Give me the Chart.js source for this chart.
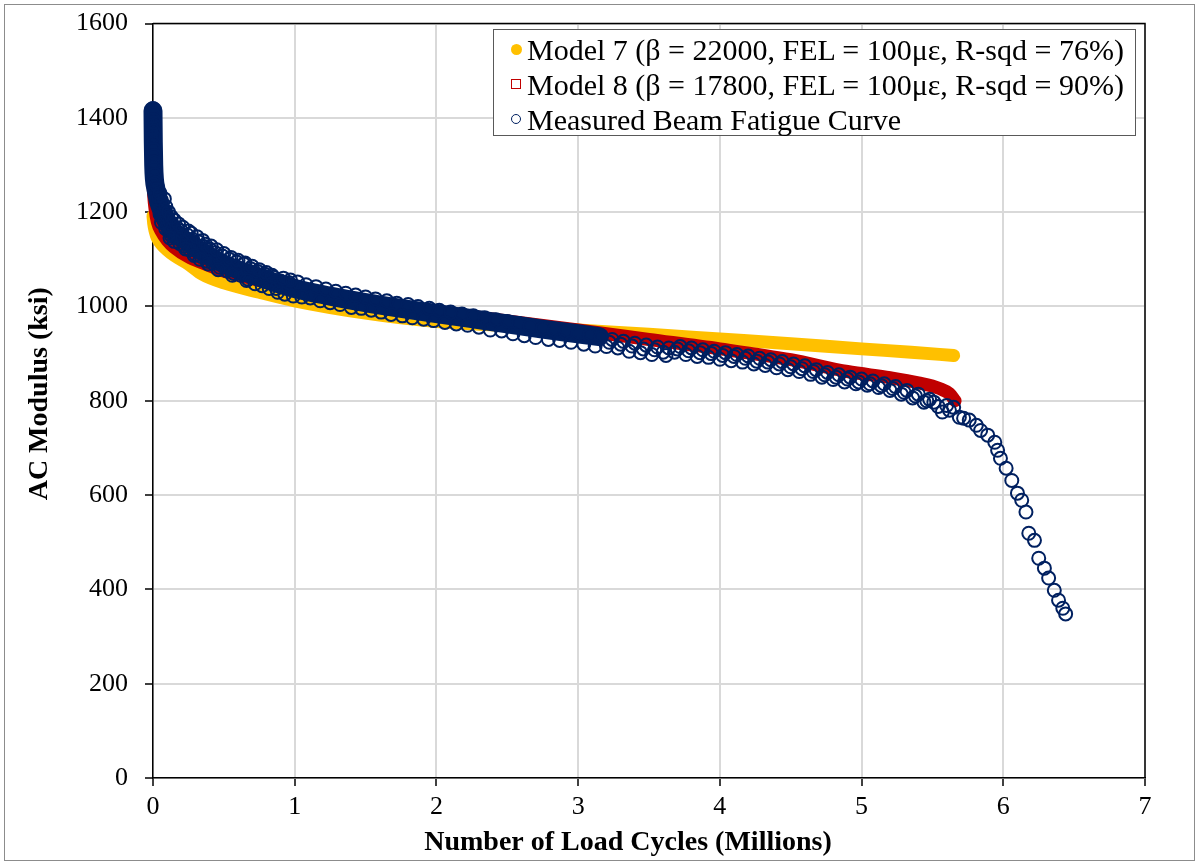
<!DOCTYPE html>
<html>
<head>
<meta charset="utf-8">
<script src="https://cdn.jsdelivr.net/npm/chart.js@4.4.1/dist/chart.umd.min.js"></script>
<style>
  html, body { margin: 0; padding: 0; background: #fff; }
  #wrap { position: relative; width: 1198px; height: 863px; }
  #frame { position: absolute; left: 4px; top: 4px; width: 1189px; height: 855px; border: 1.5px solid #8c8c8c; pointer-events: none; }
  #legend {
    position: absolute; left: 493px; top: 29px; width: 643px; height: 107px;
    border: 1.5px solid #595959; background: #fff; box-sizing: border-box;
    font-family: "Liberation Serif", "Times New Roman", serif; font-size: 30px; color: #000;
    padding-top: 2px;
  }
  #legend .item { height: 35px; line-height: 35px; white-space: nowrap; position: relative; padding-left: 33px; }
  #legend .mark { position: absolute; left: 17px; top: 12px; width: 10px; height: 10px; box-sizing: border-box; }
</style>
</head>
<body>
<div id="wrap">
  <canvas id="fatigueChart" width="1198" height="863"></canvas>
  <div id="frame"></div>
  <div id="legend"></div>
</div>
<script>
// series names (legend text)
const seriesNames = [
    "Model 7 (β = 22000, FEL = 100με, R-sqd = 76%)",
    "Model 8 (β = 17800, FEL = 100με, R-sqd = 90%)",
    "Measured Beam Fatigue Curve",
];

// Model 7 (centre of the yellow band)
const model7X = [0, 0.005, 0.015, 0.03, 0.06, 0.1, 0.15, 0.25, 0.35, 0.5, 0.75, 1.0, 1.5, 2.0, 2.5, 3.0, 3.5, 4.0, 4.5, 5.0, 5.35, 5.65];
const model7Y = [1192, 1176, 1160, 1146, 1132, 1120, 1108, 1090, 1068, 1050, 1030, 1012, 986, 968, 959, 950, 941, 931, 921, 910, 903, 896];

// Model 8 - centre of the red band
const model8X = [0, 0.005, 0.015, 0.03, 0.06, 0.1, 0.15, 0.25, 0.35, 0.5, 0.75, 1.0, 1.5, 2.0, 2.5, 3.0, 3.5, 4.0, 4.5, 4.9, 5.2, 5.4, 5.55, 5.62, 5.66];
const model8Y = [1265, 1235, 1205, 1180, 1158, 1140, 1125, 1105, 1092, 1075, 1055, 1035, 1010, 989, 969, 950, 930, 910, 887, 862, 849, 838, 826, 815, 800];

// measured curve: dense part of the cloud (solid navy band)
const bandX = [0, 0.002, 0.005, 0.01, 0.02, 0.04, 0.07, 0.1, 0.15, 0.25, 0.35, 0.5, 0.75, 1.0, 1.25, 1.5, 1.75, 2.0, 2.25, 2.5, 2.75, 3.0, 3.15];
const bandY = [1415, 1350, 1300, 1270, 1250, 1222, 1198, 1178, 1158, 1136, 1116, 1090, 1062, 1038, 1022, 1008, 996, 985, 974, 963, 952, 942, 936];

// measured curve: individual test points
const measuredX = [
    0, 0.001, 0.002, 0.002, 0.003, 0.003, 0.004, 0.004, 0.005, 0.006, 0.008, 0.01, 0.015, 0.02,
    0.04, 0.05, 0.06, 0.07, 0.08, 0.09, 0.10, 0.11, 0.12, 0.13, 0.14, 0.16, 0.17, 0.19, 0.20, 0.22, 0.24, 0.26, 0.28, 0.30,
    0.32, 0.34, 0.36, 0.38, 0.40, 0.42, 0.44, 0.47, 0.49, 0.52, 0.54, 0.57, 0.59, 0.62, 0.64, 0.67, 0.69, 0.72, 0.74, 0.77,
    0.79, 0.82, 0.85, 0.88, 0.90, 0.93, 0.96, 0.99,
    1.02, 1.05, 1.08, 1.11, 1.15, 1.18, 1.22, 1.25, 1.29, 1.32, 1.36, 1.40, 1.43, 1.47, 1.50, 1.54, 1.57, 1.61, 1.65, 1.68,
    1.72, 1.76, 1.80, 1.83, 1.87, 1.91, 1.95, 1.98, 2.02, 2.06, 2.10, 2.14, 2.18, 2.22, 2.26, 2.30, 2.34, 2.38, 2.42, 2.46,
    2.50, 2.54, 2.58, 2.62, 2.66, 2.70, 2.75, 2.79, 2.83, 2.87, 2.91, 2.95, 3.00, 3.04, 3.08, 3.12, 3.16,
    3.20, 3.22, 3.24, 3.28, 3.30, 3.32, 3.36, 3.38, 3.40, 3.44, 3.46, 3.48, 3.52, 3.54, 3.56, 3.60, 3.62, 3.64, 3.68, 3.70,
    3.72, 3.76, 3.78, 3.80, 3.84, 3.86, 3.88, 3.92, 3.94, 3.96,
    4.00, 4.02, 4.04, 4.08, 4.10, 4.12, 4.16, 4.18, 4.20, 4.24, 4.26, 4.28, 4.32, 4.34, 4.36, 4.40, 4.42, 4.44, 4.48, 4.50,
    4.52, 4.56, 4.58, 4.60, 4.64, 4.66, 4.68, 4.72, 4.74, 4.76,
    4.80, 4.82, 4.84, 4.88, 4.90, 4.92, 4.96, 4.98, 5.00, 5.04, 5.06, 5.08, 5.12, 5.14, 5.16, 5.20, 5.22, 5.24, 5.28, 5.30,
    5.32, 5.36, 5.38, 5.40, 5.44, 5.46, 5.48,
    5.51, 5.54, 5.57, 5.60, 5.62, 5.65, 5.69, 5.72, 5.76, 5.81, 5.84, 5.89, 5.94, 5.96, 5.98, 6.02, 6.06, 6.10, 6.13, 6.16,
    6.18, 6.22, 6.25, 6.29, 6.32, 6.36, 6.39, 6.42, 6.44,
    // outer edge of the early cloud
    0.03, 0.05, 0.06, 0.08, 0.09, 0.11, 0.12, 0.13, 0.15, 0.15, 0.18, 0.21, 0.23, 0.25, 0.27, 0.29, 0.31, 0.33, 0.35, 0.37,
    0.39, 0.41, 0.45, 0.46, 0.50, 0.55, 0.56, 0.60, 0.65, 0.66, 0.70, 0.75, 0.80, 0.84, 0.87, 0.92, 0.97,
];
const measuredY = [
    1420, 1408, 1396, 1384, 1372, 1360, 1346, 1333, 1320, 1306, 1292, 1280, 1262, 1248,
    1230, 1195, 1225, 1188, 1204, 1165, 1192, 1160, 1180, 1150, 1172, 1145, 1167, 1133, 1160, 1128, 1152, 1120, 1142, 1110,
    1137, 1106, 1127, 1096, 1122, 1092, 1114, 1083, 1107, 1076, 1100, 1070, 1094, 1066, 1090, 1058, 1080, 1048, 1074, 1044,
    1068, 1038, 1062, 1030, 1054, 1026, 1050, 1022,
    1052, 1020, 1046, 1018, 1042, 1012, 1037, 1008, 1032, 1004, 1028, 998, 1024, 996, 1020, 992, 1016, 988, 1012, 983,
    1007, 980, 1004, 976, 1000, 973, 996, 970, 992, 966, 988, 963, 984, 960, 980, 956, 976, 950, 972, 948,
    968, 942, 964, 938, 958, 934, 954, 930, 950, 928, 946, 924, 942, 920, 938, 916, 934,
    915, 924, 930, 912, 920, 926, 905, 916, 922, 902, 910, 918, 898, 908, 914, 903, 896, 912, 903, 910,
    915, 898, 906, 912, 894, 902, 908, 892, 900, 905,
    888, 896, 902, 885, 894, 898, 882, 890, 895, 878, 884, 890, 875, 882, 887, 870, 878, 883, 866, 872,
    878, 862, 868, 874, 856, 862, 866, 850, 855, 860,
    845, 850, 855, 840, 846, 850, 836, 840, 846, 833, 836, 842, 828, 832, 836, 822, 826, 830, 814, 818,
    822, 806, 810, 814, 797, 800, 803,
    797, 788, 776, 790, 780, 786, 765, 763, 759, 748, 737, 727, 712, 695, 678, 657, 631, 604, 589, 564,
    519, 504, 466, 445, 424, 398, 377, 360, 348,
    1255, 1240, 1178, 1228, 1212, 1200, 1145, 1190, 1183, 1138, 1175, 1168, 1122, 1160, 1155, 1108, 1148, 1100, 1140, 1132,
    1090, 1128, 1120, 1078, 1112, 1104, 1066, 1098, 1092, 1055, 1085, 1078, 1072, 1066, 1038, 1060, 1056,
];

const navy = "#002060";
const gold = "#FFC000";
const red = "#C00000";
const serif = '"Liberation Serif", "Times New Roman", serif';

function toPoints(xs, ys) {
    return xs.map((x, i) => ({ x: x, y: ys[i] }));
}

// marco del área de trazado (arriba y derecha)
const plotBorder = {
    id: "plotBorder",
    afterDraw(chart) {
        const { ctx, chartArea: a } = chart;
        ctx.save();
        ctx.strokeStyle = "#000";
        ctx.lineWidth = 1.5;
        ctx.beginPath();
        ctx.moveTo(a.left, a.top);
        ctx.lineTo(a.right, a.top);
        ctx.lineTo(a.right, a.bottom);
        ctx.stroke();
        ctx.restore();
    },
};

const ctx = document.getElementById("fatigueChart").getContext("2d");

new Chart(ctx, {
    type: "scatter",
    data: {
        datasets: [
            {
                label: seriesNames[0],
                data: toPoints(model7X, model7Y),
                showLine: true,
                borderColor: gold,
                backgroundColor: gold,
                borderWidth: 13,
                borderCapStyle: "round",
                borderJoinStyle: "round",
                cubicInterpolationMode: "monotone",
                pointRadius: 0,
                clip: false,
                order: 3,
            },
            {
                label: seriesNames[1],
                data: toPoints(model8X, model8Y),
                showLine: true,
                borderColor: red,
                backgroundColor: red,
                borderWidth: 13,
                borderCapStyle: "round",
                borderJoinStyle: "round",
                cubicInterpolationMode: "monotone",
                pointRadius: 0,
                clip: false,
                order: 2,
            },
            {
                label: "band",
                data: toPoints(bandX, bandY),
                showLine: true,
                borderColor: navy,
                borderWidth: 19,
                borderCapStyle: "round",
                borderJoinStyle: "round",
                cubicInterpolationMode: "monotone",
                pointRadius: 0,
                clip: false,
                order: 1,
            },
            {
                label: seriesNames[2],
                data: toPoints(measuredX, measuredY),
                pointStyle: "circle",
                pointRadius: 6.5,
                pointBorderWidth: 2,
                borderColor: navy,
                backgroundColor: "rgba(0,0,0,0)",
                clip: false,
                order: 0,
            },
        ],
    },
    options: {
        responsive: false,
        animation: false,
        events: [],
        layout: { padding: { top: 23, right: 53, left: 0, bottom: 0 } },
        plugins: {
            legend: { display: false },
            tooltip: { enabled: false },
        },
        scales: {
            x: {
                type: "linear",
                min: 0,
                max: 7,
                ticks: {
                    stepSize: 1,
                    color: "#000",
                    padding: 6,
                    font: { family: serif, size: 26 },
                },
                grid: { color: "#d9d9d9", lineWidth: 2, tickColor: "#000", tickLength: 8, tickWidth: 1.5 },
                border: { color: "#000", width: 1.5 },
                title: {
                    display: true,
                    // espacios al final: el título de Excel queda algo a la izquierda
                    text: "Number of Load Cycles (Millions)\u00a0\u00a0\u00a0\u00a0\u00a0\u00a0",
                    color: "#000",
                    font: { family: serif, size: 28, weight: "bold" },
                    padding: { top: 0, bottom: 3 },
                },
                afterFit(scale) { scale.height = 85; },
            },
            y: {
                type: "linear",
                min: 0,
                max: 1600,
                ticks: {
                    stepSize: 200,
                    color: "#000",
                    padding: 17,
                    font: { family: serif, size: 26, lineHeight: 0.5 },
                    callback: (value) => String(value),
                },
                grid: { color: "#d9d9d9", lineWidth: 2, tickColor: "#000", tickLength: 8, tickWidth: 1.5 },
                border: { color: "#000", width: 1.5 },
                title: {
                    display: true,
                    text: "\u00a0\u00a0AC Modulus (ksi)",
                    color: "#000",
                    font: { family: serif, size: 28, weight: "bold" },
                    padding: { top: 23, bottom: 0 },
                },
                afterFit(scale) { scale.width = 153; },
            },
        },
    },
    plugins: [plotBorder],
});

// leyenda HTML dentro del área de trazado
const legendMarks = [
    "background:" + gold + ";border-radius:50%;width:11px;height:11px;",
    "border:1.5px solid " + red + ";",
    "border:1.5px solid " + navy + ";border-radius:50%;",
];
const legendEl = document.getElementById("legend");
seriesNames.forEach((name, i) => {
    const item = document.createElement("div");
    item.className = "item";
    const mark = document.createElement("span");
    mark.className = "mark";
    mark.style.cssText = legendMarks[i];
    item.appendChild(mark);
    item.appendChild(document.createTextNode(name));
    legendEl.appendChild(item);
});
</script>
</body>
</html>
